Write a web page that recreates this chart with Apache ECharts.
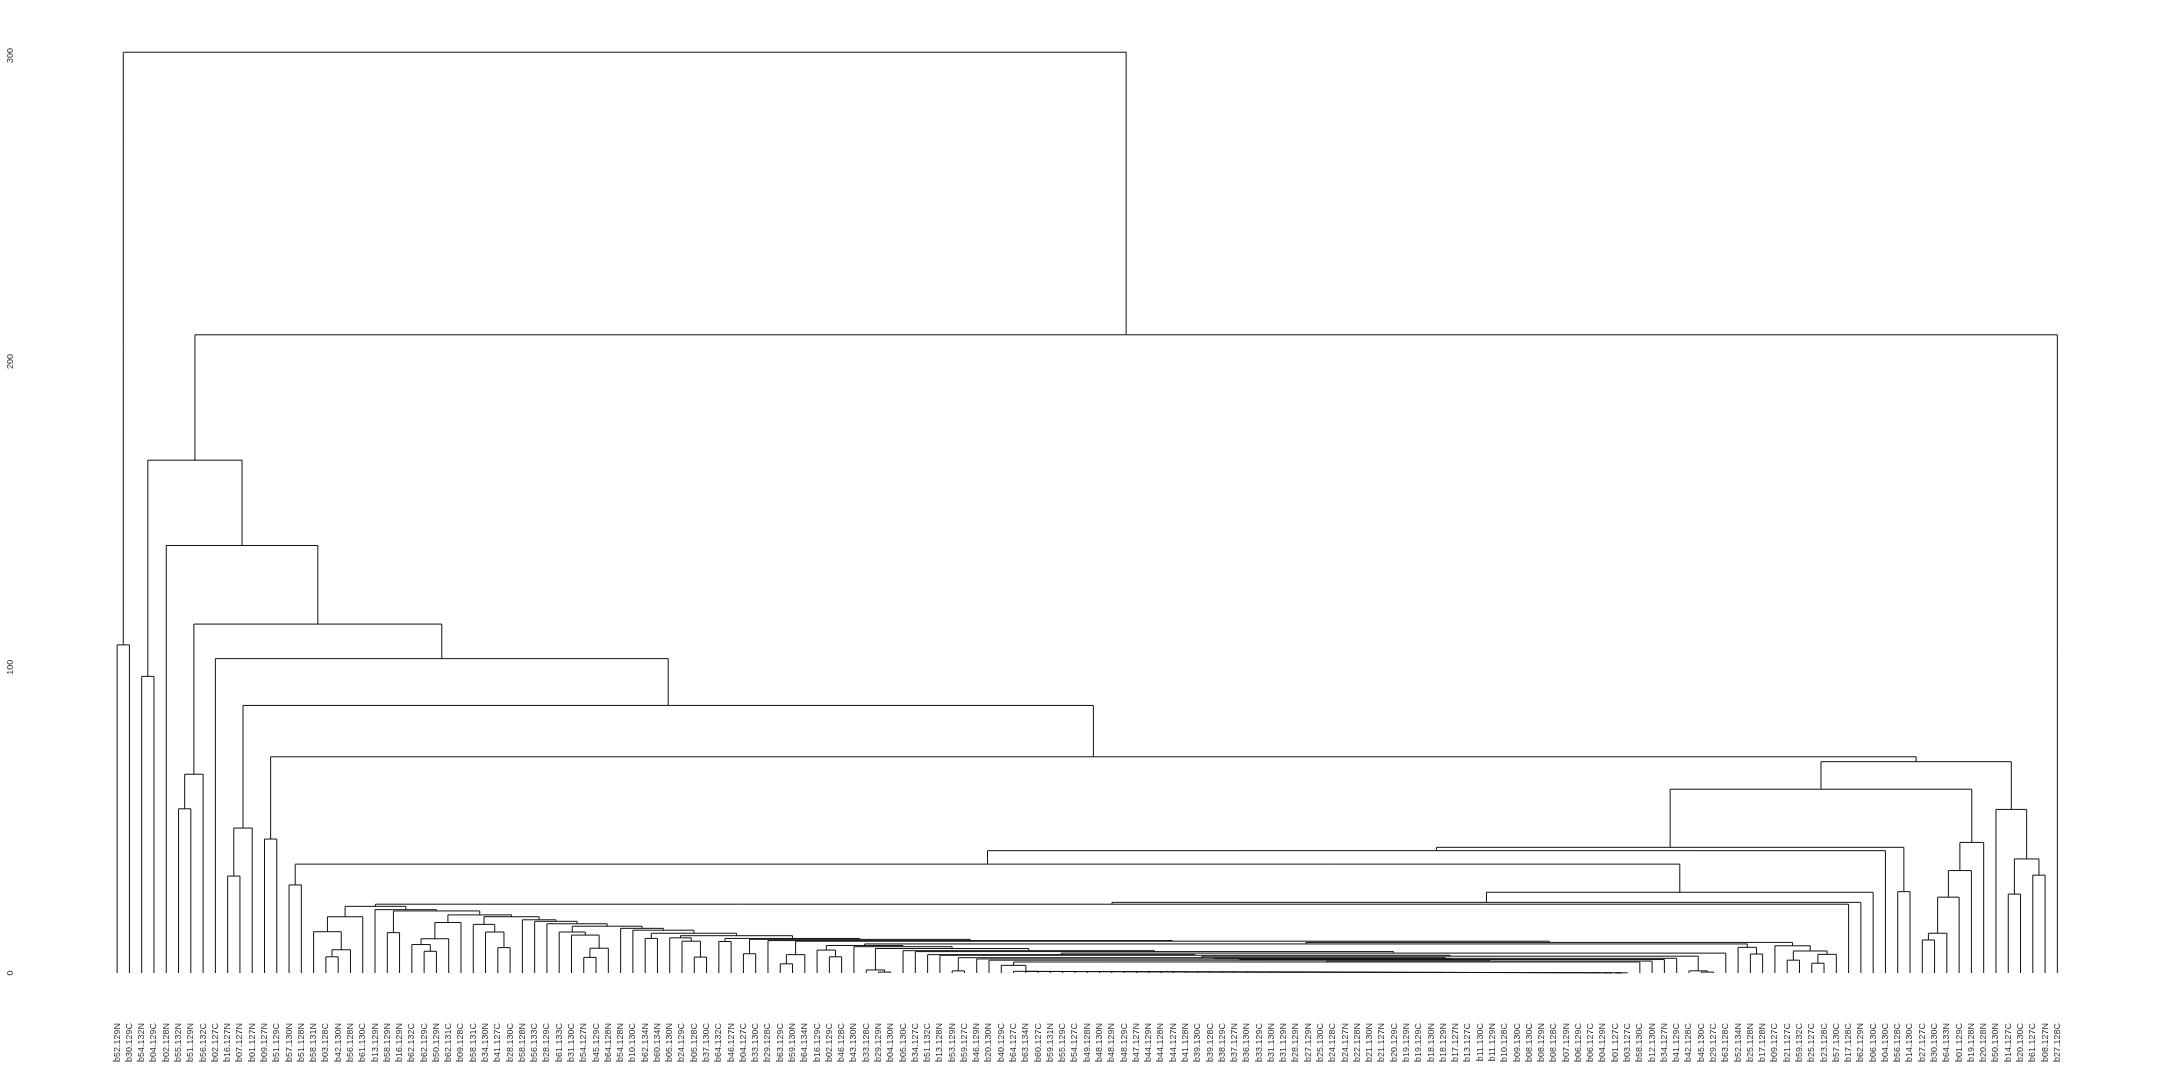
<!DOCTYPE html>
<html><head><meta charset="utf-8">
<script src="https://cdn.jsdelivr.net/npm/echarts@6/dist/echarts.min.js"></script>
<style>html,body{margin:0;padding:0;background:#fff}#c{width:2160px;height:1080px}</style>
</head><body><div id="c"></div>
<script>
// Leaf labels in dendrogram order
const leafLabels = ["b52.129N","b30.129C","b54.132N","b04.129C","b02.128N","b55.132N","b51.129N","b56.132C","b02.127C","b16.127N","b07.127N","b01.127N","b09.127N","b51.129C","b57.130N","b51.128N","b58.131N","b03.128C","b42.130N","b56.128N","b61.130C","b13.129N","b58.129N","b16.129N","b62.132C","b62.129C","b50.129N","b62.131C","b09.128C","b58.131C","b34.130N","b41.127C","b28.130C","b58.128N","b56.133C","b28.129C","b61.133C","b31.130C","b54.127N","b45.129C","b64.128N","b54.128N","b10.130C","b62.134N","b60.134N","b05.130N","b24.129C","b05.128C","b37.130C","b64.132C","b46.127N","b04.127C","b33.130C","b29.128C","b63.129C","b59.130N","b64.134N","b16.129C","b02.129C","b46.128C","b43.130N","b33.128C","b29.129N","b04.130N","b05.130C","b34.127C","b51.132C","b13.128N","b53.129N","b59.127C","b46.129N","b20.130N","b40.129C","b64.127C","b63.134N","b60.127C","b59.131N","b55.129C","b54.127C","b49.128N","b48.130N","b48.129N","b48.129C","b47.127N","b44.129N","b44.128N","b44.127N","b41.128N","b39.130C","b39.128C","b38.129C","b37.127N","b36.130N","b33.129C","b31.130N","b31.129N","b28.129N","b27.129N","b25.130C","b24.128C","b24.127N","b22.128N","b21.130N","b21.127N","b20.129C","b19.129N","b19.129C","b18.130N","b18.129N","b17.127N","b13.127C","b11.130C","b11.129N","b10.128C","b09.130C","b08.130C","b08.129N","b08.128C","b07.129N","b06.129C","b06.127C","b04.129N","b01.127C","b03.127C","b58.130C","b12.130N","b34.127N","b41.129C","b42.128C","b45.130C","b29.127C","b63.128C","b52.134N","b25.128N","b17.128N","b09.127C","b21.127C","b59.132C","b25.127C","b23.128C","b57.130C","b17.128C","b62.129N","b06.130C","b04.130C","b56.128C","b14.130C","b27.127C","b30.130C","b64.133N","b01.129C","b19.128N","b20.128N","b50.130N","b14.127C","b20.130C","b61.127C","b08.127N","b27.128C"];

// Y axis ticks
const yTicks = [0, 100, 200, 300];

// Merges: [id, left, right, height]; numbers are leaf indices, strings are merge ids
const merges = [
 ["root","a01","B",301.1],
 ["a01",0,1,107.3],
 ["B","B1",158,208.7],
 ["B1","b23","B1b",167.7],
 ["b23",2,3,97.0],
 ["B1b",4,"C",139.8],
 ["C","C1","C2",114.1],
 ["c56",5,6,53.7],
 ["C1","c56",7,65.0],
 ["C2",8,"D",102.8],
 ["D","D1","E",87.5],
 ["d910",9,10,31.7],
 ["D1","d910",11,47.4],
 ["E","e1213","F",70.7],
 ["e1213",12,13,43.8],
 ["F","X","Y",69.1],
 ["X","P","Q",60.1],
 ["P","Pl","p145",41.1],
 ["p145",145,146,26.6],
 ["Pl","n986",144,40.0],
 ["n986","n1415","n1679",35.6],
 ["n1415",14,15,28.8],
 ["n1679","Z",143,26.4],
 ["Z","n1110",142,23.1],
 ["n1110","n374",141,22.5],
 ["n374","L16","L21",21.8],
 ["l1718",17,18,5.3],
 ["l1719","l1718",19,7.6],
 ["l1619",16,"l1719",13.5],
 ["L16","l1619",20,18.4],
 ["L21",21,"L22",20.7],
 ["l2223",22,23,13.2],
 ["L22","l2223","L24",20.3],
 ["l2526",25,26,7.1],
 ["l2426",24,"l2526",9.3],
 ["l2427","l2426",27,11.2],
 ["l2428","l2427",28,16.5],
 ["L24","l2428","L29",19.0],
 ["l3132",31,32,8.3],
 ["l3032",30,"l3132",13.4],
 ["l2932",29,"l3032",15.9],
 ["L29","l2932","L33",18.4],
 ["L33",33,"L34",17.4],
 ["L34",34,"L35",16.9],
 ["L35",35,"L36",16.1],
 ["l3839",38,39,5.1],
 ["l3840","l3839",40,8.1],
 ["l3740",37,"l3840",12.4],
 ["l3640",36,"l3740",13.4],
 ["L36","l3640","L41",15.3],
 ["L41",41,"L42",14.6],
 ["L42",42,"L43",14.0],
 ["l4344",43,44,11.3],
 ["L43","l4344","L45",13.0],
 ["l4748",47,48,5.2],
 ["l4648",46,"l4748",10.4],
 ["l4548",45,"l4648",11.5],
 ["L45","l4548","L49",12.2],
 ["l4950",49,50,10.3],
 ["L49","l4950","S1",11.3],
 ["l5152",51,52,6.3],
 ["S1","l5152","S2",11.0],
 ["S2",53,"S3",10.6],
 ["l5455",54,55,3.0],
 ["l5456","l5455",56,6.0],
 ["S3","l5456","S4",10.4],
 ["r136137",136,137,4.2],
 ["r138139",138,139,3.2],
 ["r138140","r138139",140,6.1],
 ["r136140","r136137","r138140",7.2],
 ["R135",135,"r136140",8.9],
 ["S4","S5","R135",10.0],
 ["r133134",133,134,6.2],
 ["R132",132,"r133134",8.4],
 ["S5","S6","R132",9.5],
 ["l5859",58,59,5.3],
 ["l5759",57,"l5859",7.5],
 ["S6","l5759","S7",9.0],
 ["S7",60,"S8",8.6],
 ["l6263",62,63,0.3],
 ["l6163",61,"l6263",1.0],
 ["S8","l6163","B13",8.0],
 ["B13",64,"B12",7.3],
 ["B12",65,"B11",7.0],
 ["B11","B10",131,6.5],
 ["B10",66,"B9",6.0],
 ["B9",67,"B8",5.8],
 ["r129130",129,130,0.3],
 ["R128",128,"r129130",0.7],
 ["B8","B7","R128",5.5],
 ["l6869",68,69,0.7],
 ["B7","l6869","B6",5.0],
 ["B6","B5",127,4.8],
 ["B5",70,"B4",4.6],
 ["B4","B3",126,4.4],
 ["B3",71,"B2",4.2],
 ["B2","B1c",125,3.9],
 ["B1c","N73",124,3.6],
 ["N73",72,"core0",2.5],
 ["Y",153,"y154",53.5],
 ["y154","y154155","y156157",37.3],
 ["y154155",154,155,25.8],
 ["y156157",156,157,32.0],
 ["q147",147,148,10.8],
 ["q149","q147",149,13.0],
 ["q150","q149",150,24.8],
 ["q151","q150",151,33.5],
 ["Q","q151",152,42.7]
];

// Near-identical core group (leaves 73..123), chained from the left at tiny heights
const coreFirstLeaf = 73;
const coreHeights = [0.55,0.52,0.5,0.5,0.48,0.47,0.45,0.45,0.44,0.42,0.41,0.4,0.4,0.38,0.37,0.36,0.35,0.35,0.33,0.32,0.31,0.3,0.3,0.29,0.28,0.27,0.26,0.25,0.25,0.24,0.22,0.21,0.2,0.2,0.19,0.18,0.17,0.16,0.15,0.15,0.14,0.13,0.12,0.11,0.1,0.1,0.09,0.08,0.07,0.06];

const allMerges = merges.slice();
coreHeights.forEach(function(h, k){
  const right = (k < coreHeights.length - 1) ? "core" + (k + 1) : coreFirstLeaf + k + 1;
  allMerges.push(["core" + k, coreFirstLeaf + k, right, h]);
});

const nodeMap = {};
allMerges.forEach(function(m){ nodeMap[m[0]] = m; });
const posCache = {};
function cx(c){
  if (typeof c === "number") return c;
  if (posCache[c] !== undefined) return posCache[c];
  const m = nodeMap[c];
  const v = (cx(m[1]) + cx(m[2])) / 2;
  posCache[c] = v;
  return v;
}
function ch(c){ return typeof c === "number" ? 0 : nodeMap[c][3]; }
const segData = allMerges.map(function(m){ return [cx(m[1]), ch(m[1]), cx(m[2]), ch(m[2]), m[3]]; });

const chart = echarts.init(document.getElementById('c'), null, {renderer: 'canvas'});
chart.setOption({
  backgroundColor: '#ffffff',
  animation: false,
  grid: {left: 111, right: 96.5, top: 55.6, bottom: 107},
  xAxis: [
    {type: 'category', data: leafLabels, boundaryGap: true,
     axisLine: {show: false}, axisTick: {show: false}, splitLine: {show: false},
     axisLabel: {interval: 0, rotate: 90, fontSize: 9, margin: 50, color: '#333', fontFamily: 'Liberation Sans, Arial, sans-serif'}},
    {type: 'value', min: -0.5, max: leafLabels.length - 0.5, show: false}
  ],
  yAxis: {type: 'value', min: yTicks[0], max: yTicks[yTicks.length - 1], interval: 100,
    axisLine: {show: false}, axisTick: {show: false}, splitLine: {show: false},
    axisLabel: {rotate: 90, fontSize: 9, margin: 96, color: '#333', fontFamily: 'Liberation Sans, Arial, sans-serif'}},
  series: [{
    type: 'custom', xAxisIndex: 1, yAxisIndex: 0, clip: false,
    data: segData,
    encode: {x: [0, 2], y: [1, 3, 4]},
    renderItem: function(params, api){
      const xl = api.value(0), hl = api.value(1), xr = api.value(2), hr = api.value(3), h = api.value(4);
      const pts = [api.coord([xl, hl]), api.coord([xl, h]), api.coord([xr, h]), api.coord([xr, hr])];
      return {type: 'polyline', shape: {points: pts}, style: {stroke: '#111', lineWidth: 1, fill: null}};
    }
  }]
});
</script>
</body></html>
